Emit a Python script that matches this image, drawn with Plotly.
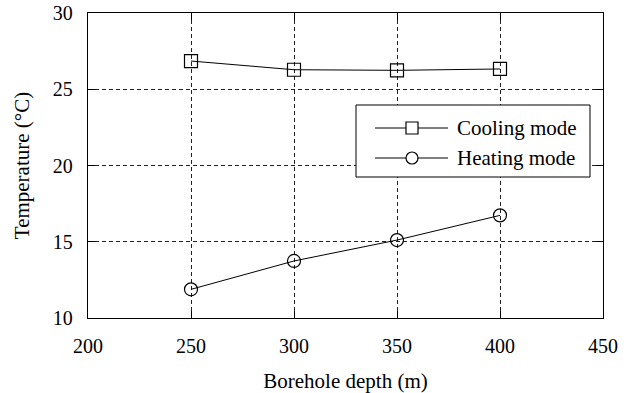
import plotly.graph_objects as go

depth = [250, 300, 350, 400]
cooling = [26.85, 26.28, 26.24, 26.33]
heating = [11.88, 13.74, 15.11, 16.73]
series_names = ["Cooling mode", "Heating mode"]
series_symbols = ["square-open", "circle-open"]

font = "Liberation Serif, Times New Roman, serif"

# plot area in pixels (used to place the hand-drawn legend box)
L, R, T, B = 88, 603, 13, 318
W, H = 634, 393


def px_x(p):
    return (p - L) / (R - L)


def px_y(p):
    return (B - p) / (B - T)


fig = go.Figure()
for name, sym, vals in zip(series_names, series_symbols, [cooling, heating]):
    fig.add_trace(go.Scatter(
        x=depth, y=vals, mode="lines+markers", name=name, showlegend=False,
        line=dict(color="black", width=1),
        marker=dict(symbol=sym, size=13, color="black", line=dict(width=1.2)),
    ))

axis_common = dict(
    showline=True, linecolor="black", linewidth=1.3, mirror="ticks",
    ticks="inside", ticklen=7, tickcolor="black", tickwidth=1,
    showgrid=True, gridcolor="#222", gridwidth=1, griddash="4px,3px",
    zeroline=False, automargin=False,
    tickfont=dict(family=font, size=20, color="black"),
)

fig.update_xaxes(
    range=[200, 450], tickvals=[200, 250, 300, 350, 400, 450],
    ticklabelstandoff=10,
    title=dict(text="Borehole depth (m)", font=dict(family=font, size=21, color="black"), standoff=17),
    **axis_common,
)
fig.update_yaxes(
    range=[10, 30], tickvals=[10, 15, 20, 25, 30],
    ticklabelstandoff=10,
    title=dict(text="Temperature (°C)", font=dict(family=font, size=21, color="black"), standoff=17),
    **axis_common,
)

# legend: framed box with a long line sample through each marker
box = dict(x0=356, x1=590, y0=105, y1=177)
rows_y = [128, 158]
line_x = (375, 448)
mark_x = 412
text_x = 455

shapes = [dict(type="rect", xref="paper", yref="paper",
               x0=px_x(box["x0"]), x1=px_x(box["x1"]),
               y0=px_y(box["y1"]), y1=px_y(box["y0"]),
               line=dict(color="black", width=1), fillcolor="white", layer="above")]
annotations = []
for name, sym, ry in zip(series_names, series_symbols, rows_y):
    shapes.append(dict(type="line", xref="paper", yref="paper",
                       x0=px_x(line_x[0]), x1=px_x(line_x[1]),
                       y0=px_y(ry), y1=px_y(ry),
                       line=dict(color="black", width=1), layer="above"))
    shapes.append(dict(type="rect" if sym.startswith("square") else "circle",
                       xref="paper", yref="paper",
                       xsizemode="pixel", ysizemode="pixel",
                       xanchor=px_x(mark_x), yanchor=px_y(ry),
                       x0=-6, x1=6, y0=-6, y1=6,
                       line=dict(color="black", width=1.2), fillcolor="white", layer="above"))
    annotations.append(dict(xref="paper", yref="paper", x=px_x(text_x), y=px_y(ry),
                            xanchor="left", yanchor="middle", showarrow=False,
                            text=name, font=dict(family=font, size=21, color="black")))

fig.update_layout(
    width=W, height=H,
    margin=dict(l=L, r=W - R, t=T, b=H - B),
    plot_bgcolor="white", paper_bgcolor="white",
    showlegend=False,
    shapes=shapes, annotations=annotations,
)

fig.write_html("out.html")
